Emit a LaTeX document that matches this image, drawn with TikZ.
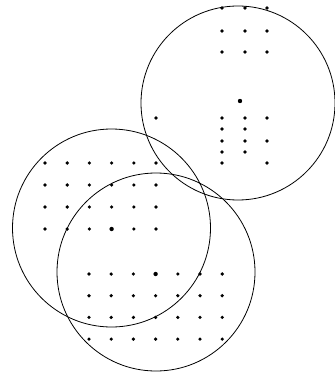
\documentclass[tikz,border=0pt]{standalone}
\usepackage{tikz}
\usetikzlibrary{positioning}

\begin{document}
\begin{tikzpicture}[x=1pt,y=-1pt,line width=.8pt]
\tikzstyle{spot}=[fill,circle,inner sep=0pt,minimum size=3.6pt]
\tikzstyle{mid}=[spot,minimum size=4.4pt]
\useasboundingbox (0,0) rectangle (334,374);
% the three circles
\coordinate (topc) at (238,103);
\coordinate (leftc) at (111.5,228);
\coordinate (lowc) at (156,272);
\draw (topc) circle (97pt);
\draw (leftc) circle (99pt);
\draw (lowc) circle (99pt);
% upper right group
\foreach \x in {222,245,267} {
  \foreach \y in {8,31,52,118,141} \node[spot] (t-\x-\y) at (\x,\y) {};
}
\foreach \x in {222,245} {
  \foreach \y in {129,152} \node[spot] (t-\x-\y) at (\x,\y) {};
}
\node[spot] (t-222-163) at (222,163) {};
\node[spot] (t-267-163) at (267,163) {};
\node[spot] (t-156-118) at (156,118) {};
\node[mid] (tmid) at (240,101) {};
% left group
\foreach \i in {0,...,5} {
  \foreach \j in {0,...,3} \node[spot] (l-\i-\j) at (45+22.2*\i,163+22*\j) {};
}
\node[mid] (lmid) at (111.6,229) {};
% lower group
\foreach \i in {0,...,6} {
  \foreach \j in {0,...,3} \node[spot] (b-\i-\j) at (89+22.2*\i,274+21.7*\j) {};
}
\node[mid] (bmid) at (155.6,274) {};
\end{tikzpicture}
\end{document}
